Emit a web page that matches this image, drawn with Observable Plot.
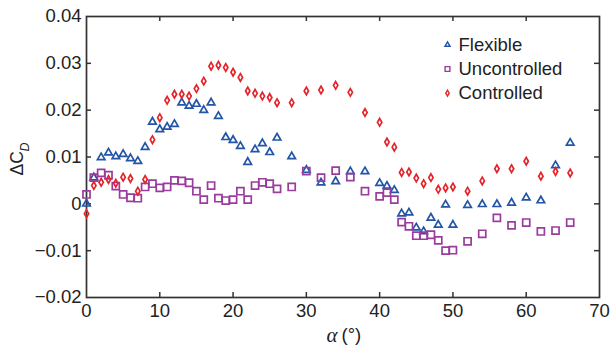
<!DOCTYPE html>
<html><head><meta charset="utf-8">
<script src="https://cdn.jsdelivr.net/npm/d3@7"></script>
<script src="https://cdn.jsdelivr.net/npm/@observablehq/plot@0.6"></script>
<style>
body{margin:0;background:#fff}
#chart{width:611px;height:351px}
</style>
</head><body><div id="chart"></div>
<script>
// ---- data ----
const angles = [0,1,2,3,4,5,6,7,8,9,10,11,12,13,14,15,16,17,18,19,20,21,22,23,24,25,26,
  28,30,32,34,36,38,40,41,42,43,44,45,46,47,48,49,50,52,54,56,58,60,62,64,66];
const flexible = [0.0000,0.0056,0.0099,0.0109,0.0101,0.0106,0.0097,0.0091,0.0121,0.0175,
  0.0159,0.0164,0.0170,0.0216,0.0209,0.0213,0.0200,0.0216,0.0187,0.0142,
  0.0136,0.0123,0.0089,0.0116,0.0129,0.0110,0.0141,
  0.0101,0.0072,0.0045,0.0048,0.0069,0.0069,0.0044,0.0038,0.0029,
  -0.0021,-0.0019,-0.0051,-0.0059,-0.0030,-0.0045,-0.0002,-0.0045,
  -0.0003,-0.0001,-0.0001,0.0002,0.0013,0.0007,0.0082,0.0130];
const uncontrolled = [0.0020,0.0056,0.0066,0.0061,0.0038,0.0020,0.0013,0.0012,0.0036,0.0043,
  0.0034,0.0036,0.0050,0.0049,0.0045,0.0027,0.0009,0.0039,0.0012,0.0007,
  0.0009,0.0027,0.0009,0.0039,0.0046,0.0043,0.0032,
  0.0036,0.0070,0.0056,0.0071,0.0057,0.0027,0.0016,0.0024,0.0009,
  -0.0039,-0.0048,-0.0068,-0.0068,-0.0066,-0.0078,-0.0100,-0.0099,
  -0.0080,-0.0064,-0.0030,-0.0046,-0.0040,-0.0059,-0.0057,-0.0040];
const controlled = [-0.0021,0.0039,0.0046,0.0052,0.0044,0.0057,0.0054,0.0027,0.0052,0.0137,
  0.0184,0.0221,0.0234,0.0234,0.0230,0.0246,0.0262,0.0294,0.0296,0.0291,
  0.0281,0.0270,0.0241,0.0236,0.0230,0.0227,0.0216,
  0.0216,0.0241,0.0243,0.0253,0.0238,0.0195,0.0174,0.0132,0.0121,
  0.0067,0.0068,0.0055,0.0043,0.0056,0.0031,0.0034,0.0036,
  0.0027,0.0049,0.0075,0.0075,0.0091,0.0059,0.0069,0.0066];
const seriesNames = ["Flexible","Uncontrolled","Controlled"];
const xTicks = [0,10,20,30,40,50,60,70];
const yTicks = [-0.02,-0.01,0,0.01,0.02,0.03,0.04];

// ---- styling ----
const styles = [
  {symbol:"triangle", color:"#2255a5", r:2.8, lr:1.9},
  {symbol:"square",   color:"#9a3c9e", r:4.0, lr:2.7},
  {symbol:"diamond",  color:"#e3242b", r:2.3, lr:1.8}
];
const seriesValues = [flexible, uncontrolled, controlled];

const W = 611, H = 351, mL = 86, mR = 12, mT = 16, mB = 54;
const pw = W - mL - mR, ph = H - mT - mB;
const axisColor = "#333";
const font = "'Liberation Sans', Arial, sans-serif";

const innerX = xTicks.slice(1, -1);
const innerY = yTicks.slice(1, -1);

const dotMarks = seriesValues.map((vals, s) =>
  Plot.dot(angles.map((a, i) => ({a, v: vals[i]})), {
    x: "a", y: "v", symbol: styles[s].symbol, r: styles[s].r,
    stroke: styles[s].color, strokeWidth: 1.7, fill: "none"
  })
);

const legendMarks = seriesNames.flatMap((name, s) => [
  Plot.dot([name], {frameAnchor: "top-left", dx: 447 - mL, dy: 44.3 - mT + 24.2 * s,
    symbol: styles[s].symbol, r: styles[s].lr, stroke: styles[s].color, strokeWidth: 1.4, fill: "none"}),
  Plot.text([name], {frameAnchor: "top-left", dx: 458 - mL, dy: 44.3 - mT + 24.2 * s,
    text: d => d, textAnchor: "start", lineAnchor: "middle", fontSize: 18.5, fill: "#222"})
]);

const chart = Plot.plot({
  width: W, height: H,
  marginLeft: mL, marginRight: mR, marginTop: mT, marginBottom: mB,
  style: {fontFamily: font, fontSize: "18.5px", color: "#222", background: "#fff", overflow: "visible"},
  x: {domain: [0, 70]},
  y: {domain: [-0.02, 0.04]},
  marks: [
    Plot.axisX(xTicks, {tickSize: 0, tickPadding: 6, label: null, tickFormat: d => String(d), fontSize: 18.5}),
    Plot.axisY(yTicks, {tickSize: 0, tickPadding: 5, label: null,
      tickFormat: d => d === 0 ? "0" : d3.format(".2f")(d), fontSize: 18.5}),
    // inward ticks on all four sides
    Plot.tickX(innerX, {x: d => d, insetTop: ph - 5, stroke: axisColor, strokeWidth: 1.5}),
    Plot.tickX(innerX, {x: d => d, insetBottom: ph - 5, stroke: axisColor, strokeWidth: 1.5}),
    Plot.tickY(innerY, {y: d => d, insetRight: pw - 5, stroke: axisColor, strokeWidth: 1.5}),
    Plot.tickY(innerY, {y: d => d, insetLeft: pw - 5, stroke: axisColor, strokeWidth: 1.5}),
    Plot.frame({stroke: axisColor, strokeWidth: 1.7}),
    ...dotMarks,
    ...legendMarks,
    // x label: italic alpha + (°)
    Plot.text(["α"], {frameAnchor: "bottom", dx: -5.5, dy: 38, text: d => d, textAnchor: "end", lineAnchor: "middle",
      fontFamily: "'Liberation Serif', 'DejaVu Serif', serif", fontStyle: "italic", fontSize: 21, fill: "#222"}),
    Plot.text(["(°)"], {frameAnchor: "bottom", dx: -1.5, dy: 38, text: d => d, textAnchor: "start", lineAnchor: "middle",
      fontSize: 18.5, fill: "#222"}),
    // y label: ΔC with subscript D
    Plot.text(["ΔC"], {frameAnchor: "left", dx: 16.5 - mL, dy: 175 - (mT + ph / 2), rotate: -90,
      text: d => d, textAnchor: "start", fontSize: 17.5, fill: "#222"}),
    Plot.text(["D"], {frameAnchor: "left", dx: 24 - mL, dy: 151 - (mT + ph / 2), rotate: -90,
      text: d => d, textAnchor: "start", fontSize: 12.5, fontStyle: "italic", fill: "#222"})
  ]
});
document.getElementById("chart").appendChild(chart);
</script>
</body></html>
